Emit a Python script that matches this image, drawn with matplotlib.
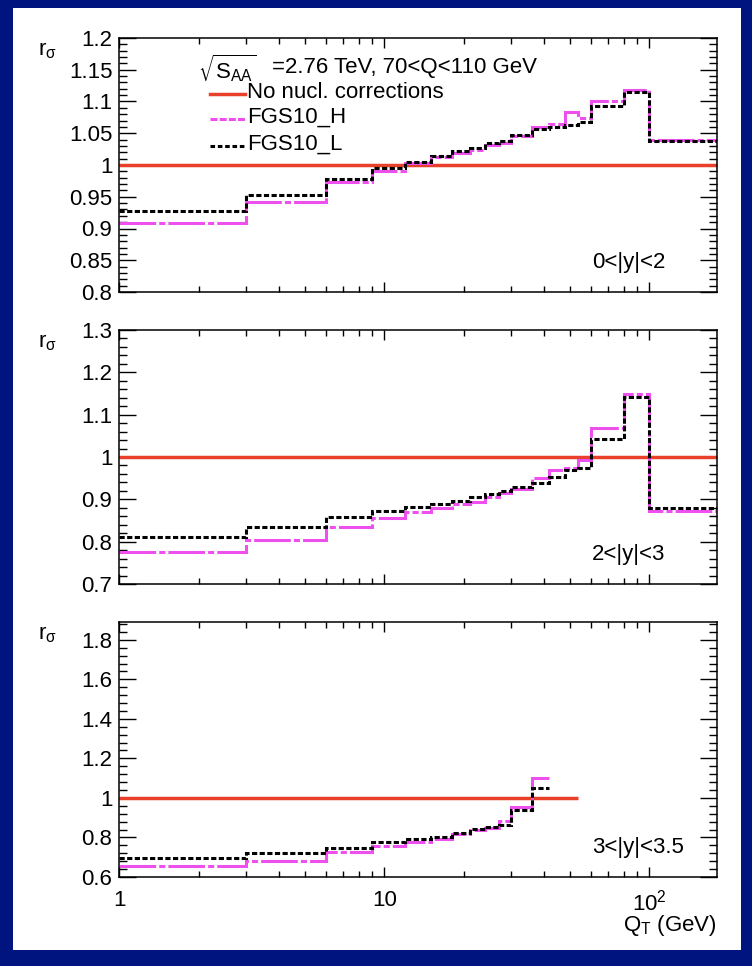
import matplotlib
matplotlib.use('Agg')
import matplotlib.pyplot as plt
from matplotlib.lines import Line2D
from matplotlib.patches import Rectangle
from matplotlib.ticker import FixedLocator, LogLocator, MultipleLocator, FixedFormatter, NullFormatter, FuncFormatter

plt.rcParams['font.family'] = ['Liberation Sans', 'DejaVu Sans']
plt.rcParams['font.size'] = 16

# ---------------- data ----------------
qt_edges = [1, 3, 6, 9, 12, 15, 18, 21, 24, 27, 30, 36, 42, 48, 54, 60, 80, 100, 180]
qt_edges_fwd = [1, 3, 6, 9, 12, 15, 18, 21, 24, 27, 30, 36, 42]

# 0<|y|<2
r1_L = [0.927, 0.953, 0.978, 0.996, 1.005, 1.014, 1.022, 1.026, 1.034, 1.038,
        1.047, 1.057, 1.060, 1.063, 1.068, 1.093, 1.115, 1.038]
r1_H = [0.908, 0.941, 0.973, 0.991, 1.003, 1.012, 1.019, 1.024, 1.031, 1.035,
        1.046, 1.060, 1.065, 1.084, 1.074, 1.101, 1.118, 1.040]
# 2<|y|<3
r2_L = [0.812, 0.834, 0.859, 0.873, 0.881, 0.890, 0.896, 0.905, 0.912, 0.920,
        0.930, 0.938, 0.953, 0.969, 0.975, 1.042, 1.141, 0.879]
r2_H = [0.776, 0.804, 0.834, 0.855, 0.871, 0.879, 0.889, 0.894, 0.905, 0.914,
        0.924, 0.950, 0.969, 0.973, 0.993, 1.068, 1.149, 0.873]
# 3<|y|<3.5
r3_L = [0.695, 0.720, 0.747, 0.778, 0.791, 0.803, 0.825, 0.844, 0.852, 0.863, 0.938, 1.052]
r3_H = [0.656, 0.680, 0.728, 0.758, 0.777, 0.794, 0.817, 0.837, 0.848, 0.883, 0.956, 1.100]

ref_value = 1.0
ref_xmax = [180, 180, 54]

region_labels = ['0<|y|<2', '2<|y|<3', '3<|y|<3.5']
y_limits = [(0.8, 1.2), (0.7, 1.3), (0.6, 1.89)]
y_ticks = [[0.8, 0.85, 0.9, 0.95, 1.0, 1.05, 1.1, 1.15, 1.2],
           [0.7, 0.8, 0.9, 1.0, 1.1, 1.2, 1.3],
           [0.6, 0.8, 1.0, 1.2, 1.4, 1.6, 1.8]]
y_tick_labels = [['0.8', '0.85', '0.9', '0.95', '1', '1.05', '1.1', '1.15', '1.2'],
                 ['0.7', '0.8', '0.9', '1', '1.1', '1.2', '1.3'],
                 ['0.6', '0.8', '1', '1.2', '1.4', '1.6', '1.8']]
y_minor_step = [0.01, 0.02, 0.04]
x_ticks = [1, 10, 100]
x_tick_labels = ['1', '10', r'$\mathregular{10^2}$']
legend_labels = ['No nucl. corrections', 'FGS10_H', 'FGS10_L']
header = '=2.76 TeV, 70<Q<110 GeV'

# ---------------- styles ----------------
RED = '#e8402a'
MAG = '#ee50ee'
BLK = '#000000'
LW = 2.2
H_DASH = (0, (12, 1.0, 2, 1.0))
L_DASH = (0, (1.7, 0.8))

W, Hpx = 752, 966
fig = plt.figure(figsize=(W / 100, Hpx / 100), dpi=100)
fig.patch.set_facecolor('#001480')
fig.add_artist(Rectangle((13 / W, 1 - 950 / Hpx), (741 - 13) / W, (950 - 8) / Hpx,
                         transform=fig.transFigure, facecolor='white', edgecolor='none', zorder=0))

panel_px = [(38, 292), (330, 584), (622, 877)]
left_px, right_px = 119.3, 717

series = [(qt_edges, r1_H, r1_L), (qt_edges, r2_H, r2_L), (qt_edges_fwd, r3_H, r3_L)]

axes = []
for i, (top, bot) in enumerate(panel_px):
    ax = fig.add_axes([left_px / W, 1 - bot / Hpx, (right_px - left_px) / W, (bot - top) / Hpx])
    ax.set_facecolor('none')
    axes.append(ax)
    edges, vh, vl = series[i]
    ax.hlines(ref_value, 1, ref_xmax[i], color=RED, lw=LW + 0.3, zorder=2)
    ax.stairs(vh, edges, baseline=None, color=MAG, lw=LW, linestyle=H_DASH, zorder=2.5)
    ax.stairs(vl, edges, baseline=None, color=BLK, lw=LW, linestyle=L_DASH, zorder=3)

    ax.set_xscale('log')
    ax.set_xlim(1, 180)
    ax.set_ylim(*y_limits[i])
    ax.xaxis.set_major_locator(FixedLocator(x_ticks))
    ax.xaxis.set_minor_locator(LogLocator(base=10, subs=[2, 3, 4, 5, 6, 7, 8, 9]))
    ax.xaxis.set_minor_formatter(NullFormatter())
    if i == 2:
        ax.xaxis.set_major_formatter(FixedFormatter(x_tick_labels))
    else:
        ax.xaxis.set_major_formatter(NullFormatter())
    ax.yaxis.set_major_locator(FixedLocator(y_ticks[i]))
    ax.yaxis.set_major_formatter(FixedFormatter(y_tick_labels[i]))
    ax.yaxis.set_minor_locator(MultipleLocator(y_minor_step[i]))

    ax.tick_params(which='both', direction='in', top=True, right=True, width=1.0, color='black')
    ax.tick_params(axis='y', which='major', length=12, pad=5, labelsize=16)
    ax.tick_params(axis='y', which='minor', length=6)
    ax.tick_params(axis='x', which='major', length=7.5, pad=9, labelsize=16)
    ax.tick_params(axis='x', which='minor', length=4)
    for s in ax.spines.values():
        s.set_linewidth(1.1)

    ax.text((592 - left_px) / (right_px - left_px), 0.117, region_labels[i],
            transform=ax.transAxes, ha='left', va='center', fontsize=16)
    fig.text(38 / W, 1 - (top + 2) / Hpx, r'$\mathregular{r_{σ}}$', ha='left', va='top', fontsize=16)

# header and legend (panel 1)
ax = axes[0]
def fx(x):
    return (x - left_px) / (right_px - left_px)
def fy(y):
    return (292 - y) / (292 - 38)

ax.text(fx(198), fy(68), r'$\sqrt{\mathregular{S_{AA}}}$', transform=ax.transAxes,
        ha='left', va='center', fontsize=16)
ax.text(fx(272), fy(68), header, transform=ax.transAxes, ha='left', va='center', fontsize=16)

leg_styles = [dict(color=RED, lw=LW + 0.3, linestyle='-'),
              dict(color=MAG, lw=LW, linestyle=(0, (2.3, 0.7))),
              dict(color=BLK, lw=LW, linestyle=(0, (1.5, 0.9)))]
leg_y = [94, 119, 146]
for st, lab, yy in zip(leg_styles, legend_labels, leg_y):
    ax.add_line(Line2D([fx(210), fx(245)], [fy(yy), fy(yy)], transform=ax.transAxes, **st))
    ax.text(fx(247), fy(yy - 2), lab, transform=ax.transAxes, ha='left', va='center', fontsize=16)

fig.text(717 / W, 1 - 926 / Hpx, r'Q$_\mathregular{T}$ (GeV)', ha='right', va='center', fontsize=16)

fig.savefig('out.png', dpi=100, facecolor=fig.get_facecolor())
